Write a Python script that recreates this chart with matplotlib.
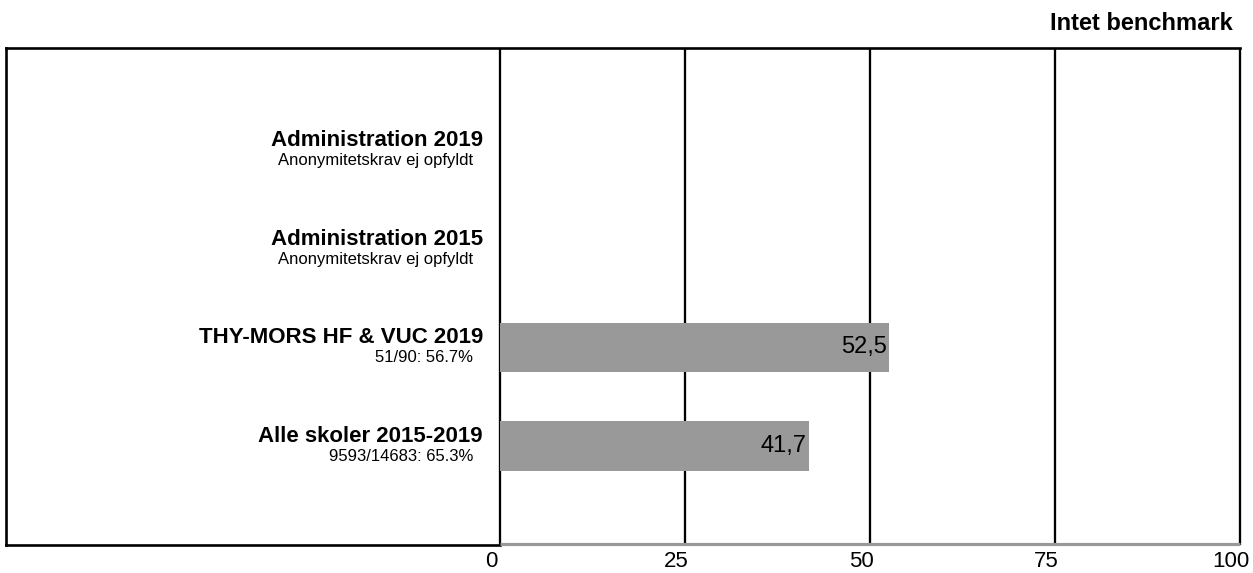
import matplotlib
matplotlib.use("Agg")
import matplotlib.pyplot as plt
from matplotlib.transforms import offset_copy

plt.rcParams['font.family'] = ['Liberation Sans', 'DejaVu Sans']

categories = ["Administration 2019", "Administration 2015", "THY-MORS HF & VUC 2019", "Alle skoler 2015-2019"]
sublabels = ["Anonymitetskrav ej opfyldt", "Anonymitetskrav ej opfyldt", "51/90: 56.7%", "9593/14683: 65.3%"]
values = [None, None, 52.5, 41.7]
value_labels = ["", "", "52,5", "41,7"]
ticks = [0, 25, 50, 75, 100]
tick_labels = ["0", "25", "50", "75", "100"]
title_right = "Intet benchmark"

W, H = 1253, 573
fig = plt.figure(figsize=(W / 100, H / 100), dpi=100)

box_l, box_r, box_t, box_b = 6, 1240, 48, 545
ax = fig.add_axes([box_l / W, 1 - box_b / H, (box_r - box_l) / W, (box_b - box_t) / H])
zero_px = 500
scale = (box_r - zero_px) / 100.0
xmin = -(zero_px - box_l) / scale
ytop, ybot = -1.033, 4.003
ax.set_xlim(xmin, 100)
ax.set_ylim(ybot, ytop)
for s in ax.spines.values():
    s.set_visible(False)
ax.set_xticks([])
ax.set_yticks([])

# bars
for i, v in enumerate(values):
    if v is not None:
        ax.barh(i, v, height=0.5, color="#999999", zorder=2)
        t = offset_copy(ax.transData, fig=fig, x=-2, y=-6, units='dots')
        ax.text(v, i, value_labels[i], transform=t, ha="right", va="baseline",
                fontsize=17, color="black", zorder=3)

# grid lines
for tv in ticks:
    ax.plot([tv, tv], [ybot, ytop], color="black", lw=1.65, zorder=1,
            solid_capstyle="butt", clip_on=False)

# box lines
ax.plot([xmin, 100], [ytop, ytop], color="black", lw=1.9, clip_on=False, zorder=4,
        solid_capstyle="projecting")
ax.plot([xmin, xmin], [ytop, ybot], color="black", lw=1.9, clip_on=False, zorder=4,
        solid_capstyle="projecting")
ax.plot([xmin, 0], [ybot, ybot], color="black", lw=1.9, clip_on=False, zorder=4,
        solid_capstyle="projecting")
gt = offset_copy(ax.transData, fig=fig, x=0, y=1.5, units='dots')
ax.plot([0, 100], [ybot, ybot], color="#999999", lw=2.3, clip_on=False, zorder=4,
        transform=gt, solid_capstyle="butt")

# category labels
for i, (c, s) in enumerate(zip(categories, sublabels)):
    t1 = offset_copy(ax.transData, fig=fig, x=-17, y=4, units='dots')
    ax.text(0, i, c, transform=t1, ha="right", va="baseline", fontsize=16, fontweight="bold")
    t2 = offset_copy(ax.transData, fig=fig, x=-27, y=-15, units='dots')
    ax.text(0, i, s, transform=t2, ha="right", va="baseline", fontsize=12)

# tick labels
for tv, tl in zip(ticks, tick_labels):
    t = offset_copy(ax.transData, fig=fig, x=-9, y=-22, units='dots')
    ax.text(tv, ybot, tl, transform=t, ha="center", va="baseline", fontsize=16)

fig.text(1233 / W, 1 - 30 / H, title_right, ha="right", va="baseline", fontsize=17, fontweight="bold")

fig.savefig("out.png", dpi=100, facecolor="white")
